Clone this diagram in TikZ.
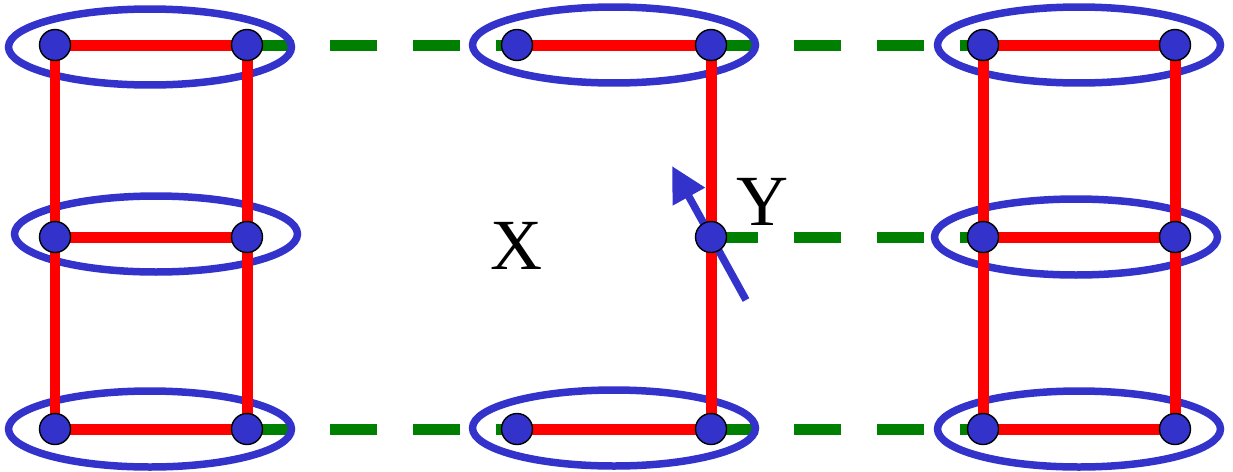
\documentclass[tikz,border=0pt]{standalone}
\usepackage{fontspec}
\setmainfont{Liberation Serif}
\usetikzlibrary{arrows.meta, shapes.geometric, backgrounds}
\definecolor{cDot}{RGB}{51, 51, 204}
\definecolor{cBond}{RGB}{255, 0, 0}
\definecolor{cLink}{RGB}{0, 128, 0}

\begin{document}
\begin{tikzpicture}[
    x=0.02cm, y=-0.02cm,
    site/.style={
        circle,
        draw=black,
        line width=0.8pt,
        fill=cDot,
        minimum size=0.62cm,
        inner sep=0pt
    },
    pair/.style={
        ellipse,
        draw=cDot,
        line width=0.15cm,
        minimum width=5.66cm,
        minimum height=1.52cm,
        inner sep=0pt
    },
    bond/.style={draw=cBond, line width=0.22cm},
    link/.style={draw=cLink, line width=0.22cm, dash pattern=on 0.94cm off 0.72cm},
    spin/.style={-{Triangle[length=0.7cm, width=0.7cm]}, draw=cDot, line width=0.15cm},
    lbl/.style={font=\fontsize{41}{41}\selectfont, inner sep=0pt}
]
\useasboundingbox (0,0) rectangle (1233,471);

% Left ladder
\node[site] (a1) at (55,45) {};
\node[site] (a2) at (55,237) {};
\node[site] (a3) at (55,429) {};
\node[site] (b1) at (247,45) {};
\node[site] (b2) at (247,237) {};
\node[site] (b3) at (247,429) {};

% Middle (broken) ladder
\node[site] (c1) at (517,45) {};
\node[site] (c3) at (517,429) {};
\node[site] (d1) at (711,45) {};
\node[site] (d2) at (711,237) {};
\node[site] (d3) at (711,429) {};

% Right ladder
\node[site] (e1) at (983,45) {};
\node[site] (e2) at (983,237) {};
\node[site] (e3) at (983,429) {};
\node[site] (f1) at (1175,45) {};
\node[site] (f2) at (1175,237) {};
\node[site] (f3) at (1175,429) {};

\node[lbl] (xlbl) at (517,246) {X};
\node[lbl] (ylbl) at (762,202) {Y};

\coordinate (spintail) at (746,300);
\coordinate (spinhead) at (672,166);

\begin{pgfonlayer}{background}
    % dashed links between ladders
    \draw[link] (b1.center) -- (c1.center);
    \draw[link] (d1.center) -- (e1.center);
    \draw[link] (d2.center) -- (e2.center);
    \draw[link] (b3.center) -- (c3.center);
    \draw[link] (d3.center) -- (e3.center);

    % singlet pairs
    \node[pair] (p1) at (150,47) {};
    \node[pair] (p2) at (156,234) {};
    \node[pair] (p3) at (150,429) {};
    \node[pair] (p4) at (614,45) {};
    \node[pair] (p5) at (614,428) {};
    \node[pair] (p6) at (1079,45) {};
    \node[pair] (p7) at (1076,237) {};
    \node[pair] (p8) at (1079,429) {};

    % rungs and legs
    \draw[bond] (a1.center) -- (b1.center);
    \draw[bond] (a2.center) -- (b2.center);
    \draw[bond] (a3.center) -- (b3.center);
    \draw[bond] (a1.center) -- (a3.center);
    \draw[bond] (b1.center) -- (b3.center);
    \draw[bond] (c1.center) -- (d1.center);
    \draw[bond] (c3.center) -- (d3.center);
    \draw[bond] (d1.center) -- (d3.center);
    \draw[bond] (e1.center) -- (f1.center);
    \draw[bond] (e2.center) -- (f2.center);
    \draw[bond] (e3.center) -- (f3.center);
    \draw[bond] (e1.center) -- (e3.center);
    \draw[bond] (f1.center) -- (f3.center);

    % free spin
    \draw[spin] (spintail) -- (spinhead);
\end{pgfonlayer}

\end{tikzpicture}
\end{document}
